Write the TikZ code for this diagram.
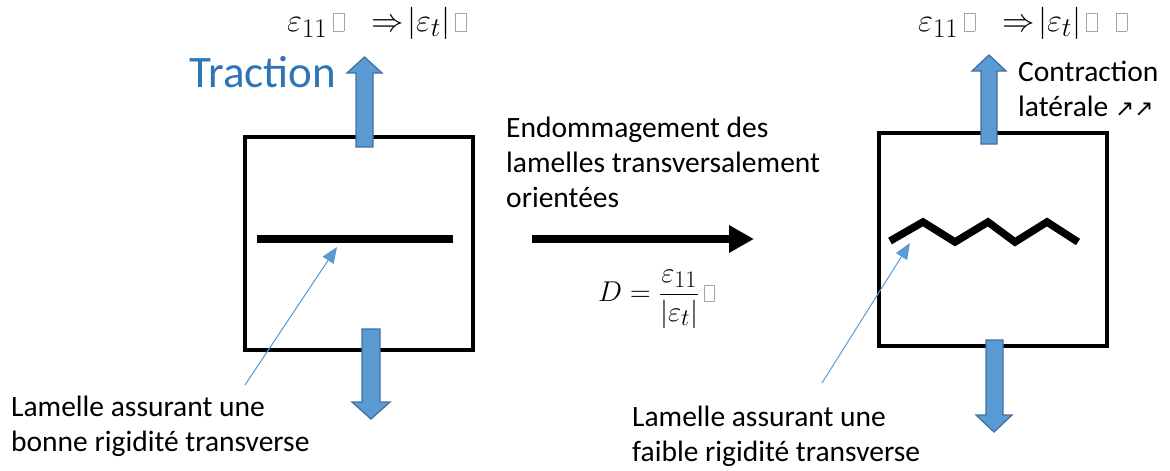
\documentclass[tikz,border=0pt]{standalone}
\usepackage{amsmath}
\usepackage{graphicx}
\usepackage{fontspec}
\setmainfont{Carlito}
\newfontfamily\symfont{DejaVu Sans}
\usetikzlibrary{arrows.meta}
\definecolor{trblue}{HTML}{2E75B6}
\definecolor{arrfill}{HTML}{5B9BD5}
\definecolor{arrdraw}{HTML}{41719C}
\newcommand\missglyph{{\color{gray!70}\setlength{\fboxrule}{0.4pt}\setlength{\fboxsep}{0pt}\fbox{\rule{0pt}{0.55em}\hspace{0.32em}}}}
\newcommand\bigmath[2][1.3]{\scalebox{#1}{$#2$}}
\tikzset{
  specimen/.style={draw=black,line width=4pt},
  lamella/.style={draw=black,line width=8.5pt},
  loadarrow/.style={fill=arrfill,draw=arrdraw,line width=1.3pt,line join=miter},
  pointer/.style={draw=arrfill,line width=1pt,-{Triangle[length=16pt,width=13pt]}},
  label/.style={inner sep=0pt,align=left,font=\fontsize{29.5}{35}\selectfont},
  eq/.style={inner sep=0pt,font=\fontsize{24.88}{30}\selectfont},
  bigarrow/.style={draw=black,line width=8pt,-{Triangle[length=25pt,width=26pt]}}
}
\begin{document}
\begin{tikzpicture}[x=1pt,y=-1pt]
\useasboundingbox (0,0) rectangle (1170,471);
% specimens
\draw[specimen] (245,137) rectangle (473,350);
\draw[specimen] (879,133) rectangle (1107,346);
% lamellae
\draw[lamella] (257,239) -- (453,239);
\coordinate (lamL) at (337,247);
\draw[lamella,line width=7.5pt,line join=miter] (890,241) -- (923,222) -- (955,242) -- (988,222) -- (1015,242) -- (1047,222) -- (1078,242);
\coordinate (lamR) at (910,243);
% load arrows
\draw[loadarrow] (356,147) -- (356,73) -- (347,73) -- (364.5,57) -- (382,73) -- (373,73) -- (373,147) -- cycle;
\draw[loadarrow] (362,329) -- (362,402) -- (352,402) -- (371,419) -- (390,402) -- (380,402) -- (380,329) -- cycle;
\draw[loadarrow] (981,144) -- (981,71) -- (972,71) -- (989,55) -- (1006,71) -- (997,71) -- (997,144) -- cycle;
\draw[loadarrow] (986,340) -- (986,415) -- (976,415) -- (994,432) -- (1012,415) -- (1003,415) -- (1003,340) -- cycle;
% central arrow
\coordinate (bA) at (532,239);
\coordinate (bB) at (754,239);
\draw[bigarrow] (bA) -- (bB);
% texts (base anchor = baseline of last line)
\node[label,anchor=base west,text=trblue,font=\fontsize{45}{50}\selectfont] (trac) at (189,87) {Traction};
\node[label,anchor=base west] (endo) at (506,207) {Endommagement des\\lamelles transversalement\\orientées};
\node[label,anchor=base west] (contr) at (1018,116) {Contraction\\latérale {\symfont\fontsize{23}{26}\selectfont ↗↗}};
\node[label,anchor=base west] (lamtxtL) at (11,451) {Lamelle assurant une\\bonne rigidité transverse};
\node[label,anchor=base west] (lamtxtR) at (632,461) {Lamelle assurant une\\faible rigidité transverse};
\coordinate (pL) at (245,385);
\coordinate (pR) at (822,383);
\draw[pointer] (pL) -- (lamL);
\draw[pointer] (pR) -- (lamR);
% equations
\node[eq,anchor=west] (eqL) at (287,23) {\bigmath{\varepsilon_{11}\,\mbox{\missglyph}\;\;\Rightarrow\!\left|\varepsilon_t\right|\mbox{\missglyph}}};
\node[eq,anchor=west] (eqR) at (918,23) {\bigmath{\varepsilon_{11}\,\mbox{\missglyph}\;\;\Rightarrow\!\left|\varepsilon_t\right|\mbox{\missglyph}\;\;\mbox{\missglyph}}};
\node[eq,anchor=west] (eqD) at (598,299) {\bigmath[1.15]{D=\dfrac{\varepsilon_{11}}{\left|\varepsilon_t\right|}\,\mbox{\missglyph}}};
\end{tikzpicture}
\end{document}
